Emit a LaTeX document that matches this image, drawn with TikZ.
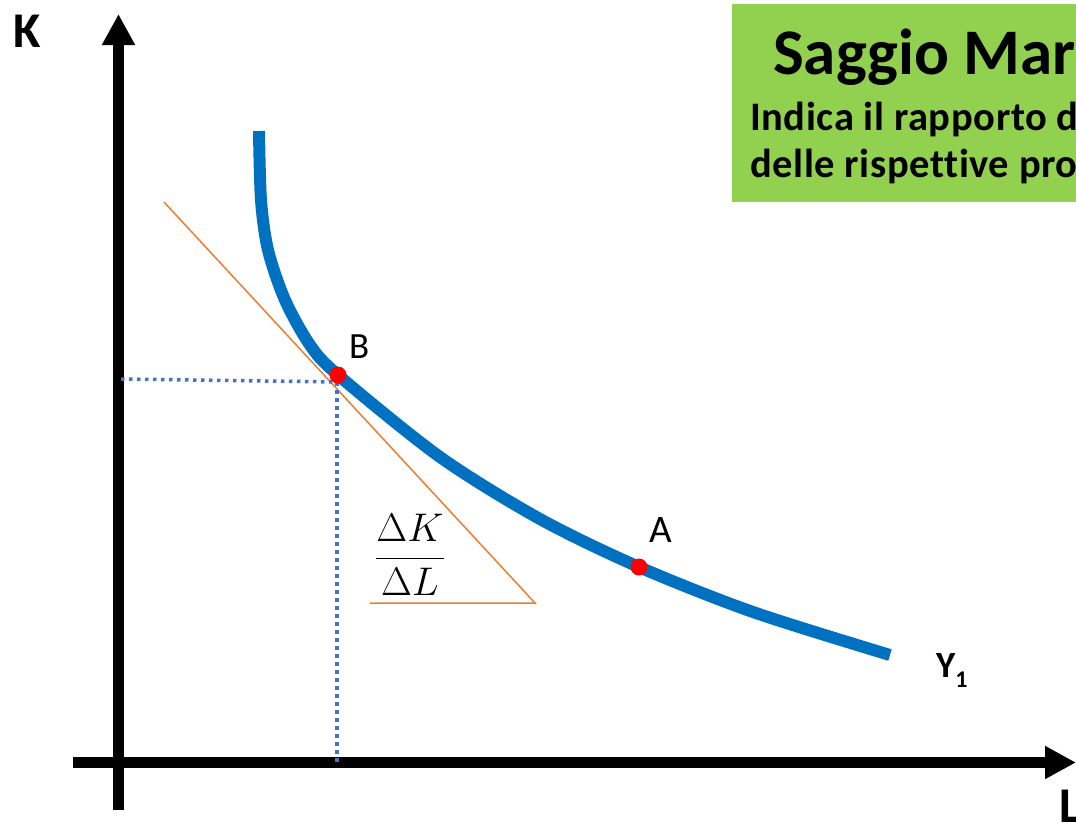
\RequirePackage{fix-cm}
\documentclass[tikz,border=0pt]{standalone}
\usepackage{fontspec}
\setmainfont{Carlito}[Ligatures={TeX,NoCommon}]
\usetikzlibrary{arrows.meta}
\definecolor{boxgreen}{HTML}{92D050}
\definecolor{curveblue}{HTML}{0070C0}
\definecolor{dotblue}{HTML}{4472C4}
\definecolor{tanorange}{HTML}{ED7D31}
\tikzset{
  axis/.style={line width=10.5pt,-{Triangle[width=31pt,length=31pt]}},
  dotline/.style={dotblue,line width=3.5pt,dash pattern=on 3.5pt off 4.5pt},
  tangent/.style={tanorange,line width=1.5pt},
  isoq/.style={curveblue,line width=12pt},
  pt/.style={circle,fill=red,minimum size=17pt,inner sep=0pt},
  lbl/.style={inner sep=0pt,anchor=base west},
}
\begin{document}
\begin{tikzpicture}[x=1pt,y=-1pt]
\useasboundingbox (0,0) rectangle (1076,822);
\clip (0,0) rectangle (1076,822);
% green box
\fill[boxgreen] (732,4) rectangle (1090,202);
\node[lbl,font=\bfseries\fontsize{65}{70}\selectfont] (title) at (773,74) {Saggio Mar};
\node[lbl,font=\bfseries\fontsize{40.5}{44}\selectfont] (sub1) at (750,130) {\addfontfeatures{LetterSpace=1.5}Indica il rapporto d};
\node[lbl,font=\bfseries\fontsize{40.5}{44}\selectfont] (sub2) at (750,177) {\addfontfeatures{LetterSpace=1.5}delle rispettive pro};
% axes
\coordinate (vbot) at (118.5,810);
\coordinate (vtop) at (118.5,14);
\coordinate (hleft) at (73,762.5);
\coordinate (hright) at (1076,762.5);
\draw[axis] (vbot) -- (vtop);
\draw[axis] (hleft) -- (hright);
\node[lbl,font=\bfseries\fontsize{50}{55}\selectfont] (K) at (13,47) {K};
\node[lbl,font=\bfseries\fontsize{50}{55}\selectfont] (L) at (1059,822) {L};
% tangent and triangle
\coordinate (t1) at (164,202);
\coordinate (t2) at (535,603);
\coordinate (t3) at (370,603);
\draw[tangent] (t1) -- (t2) -- (t3);
% dotted guides
\coordinate (kB) at (121,379);
\coordinate (lB) at (337,763);
\coordinate (Bfoot) at (337,382);
\draw[dotline] (kB) -- (Bfoot);
\draw[dotline] (Bfoot) -- (lB);
% isoquant
\draw[isoq] plot[smooth,tension=0.5] coordinates {(259,131) (261,200) (268,250) (285,300) (310,345) (338,375) (440,457) (540,519) (639,567) (753,612) (890,655)};
\node[pt] (B) at (338,375) {};
\node[pt] (A) at (639,567) {};
\node[lbl,font=\fontsize{37}{40}\selectfont] (Blab) at (349,358) {B};
\node[lbl,font=\fontsize{39}{44}\selectfont] (Alab) at (649,542) {A};
% fraction
\node[inner sep=0pt,font=\fontsize{40}{48}\selectfont] (frac) at (410,555) {$\displaystyle\frac{\Delta K}{\Delta L}$};
% Y1
\node[lbl,font=\bfseries\fontsize{37}{40}\selectfont] (Y) at (936,677) {Y\raisebox{-10pt}{\fontsize{24}{26}\selectfont 1}};
\end{tikzpicture}
\end{document}
